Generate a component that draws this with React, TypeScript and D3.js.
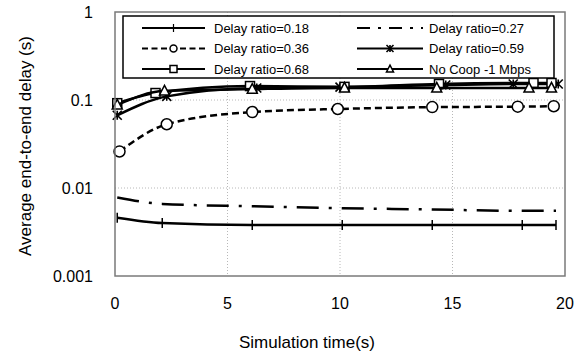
import * as d3 from "d3";
import { useEffect, useRef } from "react";

// simulation time (s) of each sample, per series
const ratio018X = [0.1, 2.1, 6.1, 10.1, 14.1, 18.1, 19.6];
const ratio018Y = [0.0046, 0.004, 0.0038, 0.0038, 0.0038, 0.0038, 0.0038];

const ratio027X = [0.1, 2.1, 6.1, 10.1, 14.1, 18.1, 19.6];
const ratio027Y = [0.0078, 0.0066, 0.0062, 0.0059, 0.0057, 0.0055, 0.0055];

const ratio036X = [0.2, 2.3, 6.1, 9.9, 14.1, 17.9, 19.5];
const ratio036Y = [0.026, 0.053, 0.073, 0.079, 0.083, 0.084, 0.085];

const ratio059X = [0.1, 2.3, 6.3, 10.0, 14.7, 17.7, 19.7];
const ratio059Y = [0.067, 0.11, 0.137, 0.14, 0.148, 0.152, 0.152];

const ratio068X = [0.1, 1.8, 6.0, 10.2, 14.4, 18.6, 19.4];
const ratio068Y = [0.092, 0.12, 0.144, 0.141, 0.152, 0.156, 0.156];

const noCoopX = [0.1, 2.2, 6.1, 10.2, 14.3, 18.4, 19.4];
const noCoopY = [0.088, 0.127, 0.133, 0.137, 0.137, 0.137, 0.137];

const xTicks = [0, 5, 10, 15, 20];
const yTicks = [0.001, 0.01, 0.1, 1];
const yTickLabels = ["0.001", "0.01", "0.1", "1"];

type Marker = "plus" | "none" | "circle" | "star" | "square" | "triangle";

const seriesList: { name: string; xs: number[]; ys: number[]; marker: Marker; dash: string | null }[] = [
  { name: "Delay ratio=0.18", xs: ratio018X, ys: ratio018Y, marker: "plus", dash: null },
  { name: "Delay ratio=0.27", xs: ratio027X, ys: ratio027Y, marker: "none", dash: "22,10,3,10" },
  { name: "Delay ratio=0.36", xs: ratio036X, ys: ratio036Y, marker: "circle", dash: "7,4" },
  { name: "Delay ratio=0.59", xs: ratio059X, ys: ratio059Y, marker: "star", dash: null },
  { name: "Delay ratio=0.68", xs: ratio068X, ys: ratio068Y, marker: "square", dash: null },
  { name: "No Coop -1 Mbps", xs: noCoopX, ys: noCoopY, marker: "triangle", dash: null },
];

const FONT = "'Liberation Sans', Arial, sans-serif";

function drawMarker(g: d3.Selection<SVGGElement, unknown, null, undefined>, type: Marker, cx: number, cy: number, s: number) {
  if (type === "none") return;
  if (type === "plus") {
    g.append("line").attr("x1", cx).attr("x2", cx).attr("y1", cy - s).attr("y2", cy + s)
      .attr("stroke", "#000").attr("stroke-width", 1.5);
    g.append("line").attr("x1", cx - s).attr("x2", cx + s).attr("y1", cy).attr("y2", cy)
      .attr("stroke", "#000").attr("stroke-width", 1.5);
  } else if (type === "circle") {
    g.append("circle").attr("cx", cx).attr("cy", cy).attr("r", s)
      .attr("fill", "#fff").attr("stroke", "#000").attr("stroke-width", 1.5);
  } else if (type === "square") {
    g.append("rect").attr("x", cx - s).attr("y", cy - s).attr("width", 2 * s).attr("height", 2 * s)
      .attr("fill", "#fff").attr("stroke", "#000").attr("stroke-width", 1.5);
  } else if (type === "triangle") {
    const h = s * 1.1;
    g.append("path")
      .attr("d", `M${cx},${cy - h}L${cx + s},${cy + h * 0.75}L${cx - s},${cy + h * 0.75}Z`)
      .attr("fill", "#fff").attr("stroke", "#000").attr("stroke-width", 1.5);
  } else if (type === "star") {
    const path = `M${cx - s},${cy - s}L${cx + s},${cy + s}M${cx - s},${cy + s}L${cx + s},${cy - s}M${cx},${cy - s}L${cx},${cy + s}`;
    g.append("path").attr("d", path).attr("stroke", "#000").attr("stroke-width", 1.6).attr("fill", "none");
  }
}

const App = () => {
  const ref = useRef<SVGSVGElement | null>(null);

  useEffect(() => {
    if (!ref.current) return;
    const svg = d3.select(ref.current);
    svg.selectAll("*").remove();

    const left = 115, right = 565, top = 12, bottom = 276;

    const x = d3.scaleLinear().domain([0, 20]).range([left, right]);
    const y = d3.scaleLog().domain([0.001, 1]).range([bottom, top]);

    svg.append("rect").attr("width", 584).attr("height", 364).attr("fill", "#fff");

    // gridlines
    const grid = svg.append("g");
    grid.selectAll("line.vx")
      .data(xTicks.slice(1, -1))
      .enter()
      .append("line")
      .attr("x1", (d) => x(d)).attr("x2", (d) => x(d))
      .attr("y1", top).attr("y2", bottom)
      .attr("stroke", "#b8b8b8").attr("stroke-width", 1).attr("stroke-dasharray", "1,2");
    grid.selectAll("line.hy")
      .data(yTicks.slice(1, -1))
      .enter()
      .append("line")
      .attr("x1", left).attr("x2", right)
      .attr("y1", (d) => y(d)).attr("y2", (d) => y(d))
      .attr("stroke", "#b8b8b8").attr("stroke-width", 1).attr("stroke-dasharray", "1,2");

    // series
    const line = d3.line<[number, number]>()
      .x((d) => x(d[0]))
      .y((d) => y(d[1]))
      .curve(d3.curveMonotoneX);

    const sizes: Record<Marker, number> = { plus: 5, none: 0, circle: 5.5, star: 4.5, square: 4.5, triangle: 5 };

    seriesList.forEach((s) => {
      const pts = s.xs.map((v, i) => [v, s.ys[i]] as [number, number]);
      const g = svg.append("g");
      g.append("path")
        .attr("d", line(pts))
        .attr("fill", "none")
        .attr("stroke", "#000")
        .attr("stroke-width", 2.5)
        .attr("stroke-dasharray", s.dash ?? null);
      pts.forEach((p) => {
        if (s.marker === "plus") {
          g.append("line").attr("x1", x(p[0])).attr("x2", x(p[0]))
            .attr("y1", y(p[1]) - 5).attr("y2", y(p[1]) + 5)
            .attr("stroke", "#000").attr("stroke-width", 1.5);
        } else {
          drawMarker(g, s.marker, x(p[0]), y(p[1]), sizes[s.marker]);
        }
      });
    });

    // plot frame
    svg.append("rect")
      .attr("x", left).attr("y", top)
      .attr("width", right - left).attr("height", bottom - top)
      .attr("fill", "none").attr("stroke", "#7a7a7a").attr("stroke-width", 1.5);

    // y ticks
    svg.append("g")
      .selectAll("text")
      .data(yTicks)
      .enter()
      .append("text")
      .attr("x", 93)
      .attr("y", (d) => y(d))
      .attr("dy", "0.35em")
      .attr("text-anchor", "end")
      .style("font-family", FONT)
      .style("font-size", "16px")
      .text((d, i) => yTickLabels[i]);

    // x ticks
    svg.append("g")
      .selectAll("text")
      .data(xTicks)
      .enter()
      .append("text")
      .attr("x", (d) => x(d))
      .attr("y", 303)
      .attr("dy", "0.35em")
      .attr("text-anchor", "middle")
      .style("font-family", FONT)
      .style("font-size", "16px")
      .text((d) => String(d));

    svg.append("text")
      .attr("x", (left + right) / 2 - 33)
      .attr("y", 342)
      .attr("dy", "0.35em")
      .attr("text-anchor", "middle")
      .style("font-family", FONT)
      .style("font-size", "17px")
      .text("Simulation time(s)");

    svg.append("text")
      .attr("transform", `translate(25,${146}) rotate(-90)`)
      .attr("dy", "0.35em")
      .attr("text-anchor", "middle")
      .style("font-family", FONT)
      .style("font-size", "17px")
      .text("Average end-to-end delay (s)");

    // legend
    const lg = svg.append("g");
    lg.append("rect")
      .attr("x", 123).attr("y", 16)
      .attr("width", 431).attr("height", 62)
      .attr("fill", "#fff").attr("stroke", "#000").attr("stroke-width", 1.5);

    const legendSizes: Record<Marker, number> = { plus: 4, none: 0, circle: 3.5, star: 3.5, square: 3.5, triangle: 3.5 };
    seriesList.forEach((s, i) => {
      const col = i % 2;
      const row = Math.floor(i / 2);
      const x1 = col === 0 ? 142 : 357;
      const x2 = col === 0 ? 205 : 423;
      const tx = col === 0 ? 214 : 429;
      const ly = 28 + row * 20.5;
      lg.append("line")
        .attr("x1", x1).attr("x2", x2).attr("y1", ly).attr("y2", ly)
        .attr("stroke", "#000").attr("stroke-width", 2.2)
        .attr("stroke-dasharray", s.dash === "7,4" ? "6,3.5" : s.dash === null ? null : "13,8,3,8");
      if (s.marker === "plus") {
        lg.append("line").attr("x1", (x1 + x2) / 2).attr("x2", (x1 + x2) / 2)
          .attr("y1", ly - 4).attr("y2", ly + 4).attr("stroke", "#000").attr("stroke-width", 1.2);
      } else {
        drawMarker(lg, s.marker, (x1 + x2) / 2, ly, legendSizes[s.marker]);
      }
      lg.append("text")
        .attr("x", tx).attr("y", ly)
        .attr("dy", "0.35em")
        .style("font-family", FONT)
        .style("font-size", "13px")
        .text(s.name);
    });
  }, []);

  return (
    <svg
      ref={ref}
      width={584}
      height={364}
      style={{ position: "absolute", left: 0, top: 0, display: "block" }}
    ></svg>
  );
};

export default App;
